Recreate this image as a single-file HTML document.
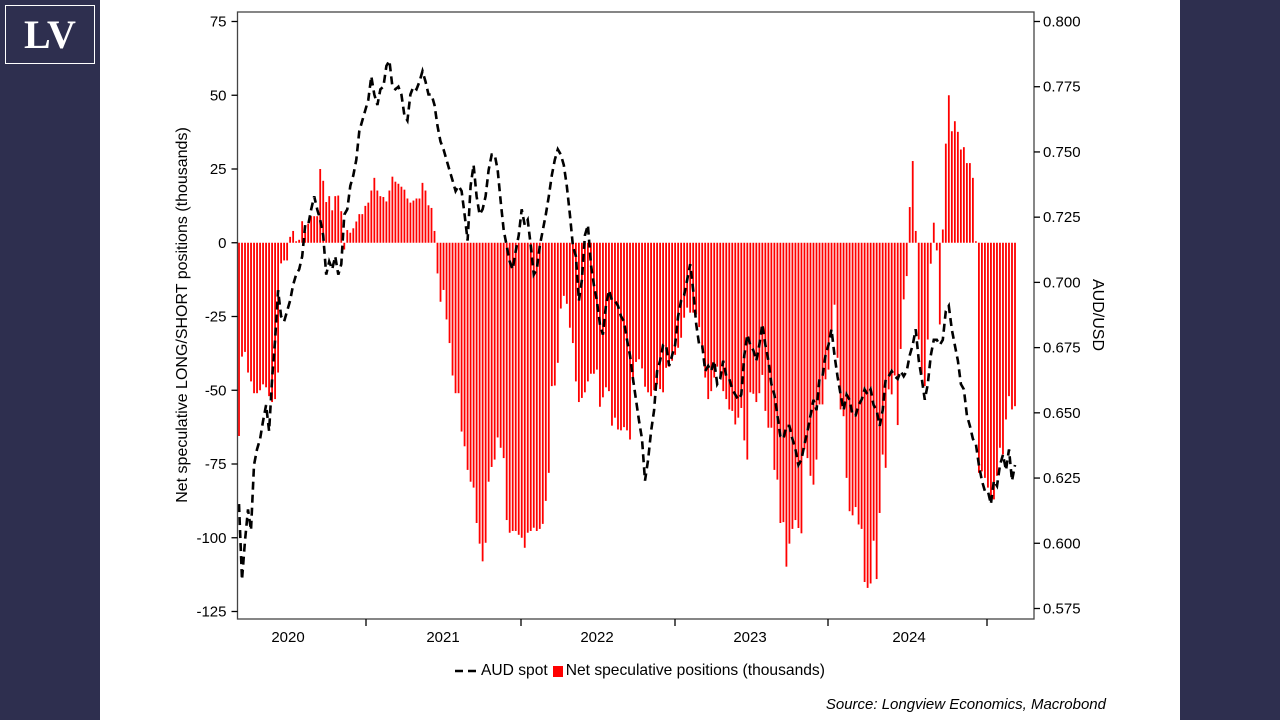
<!DOCTYPE html>
<html><head><meta charset="utf-8"><style>
html,body{margin:0;padding:0;width:1280px;height:720px;overflow:hidden;background:#fff;font-family:"Liberation Sans",Arial,sans-serif}
.side{position:absolute;top:0;width:100px;height:720px;background:#2e2f4f}
</style></head><body>
<div class="side" style="left:0"></div>
<div class="side" style="left:1180px"></div>
<div style="position:absolute;left:5px;top:5px;width:88px;height:57px;border:1px solid #fff;color:#fff;font-family:'Liberation Serif',serif;font-weight:bold;font-size:40px;text-align:center;line-height:57px">LV</div>
<svg id="chart" width="1280" height="720" style="position:absolute;left:0;top:0"></svg>
<script>
const years=["2020","2021","2022","2023","2024"];
const leftTicks=[75,50,25,0,-25,-50,-75,-100,-125];
const rightTicks=[0.800,0.775,0.750,0.725,0.700,0.675,0.650,0.625,0.600,0.575];
const netPositions=[-65.5,-38.6,-37,-44,-47,-51,-51,-50,-48,-49,-52,-54,-53,-44,-7,-6,-6,2,4,0.5,1,7.3,3.6,6.5,9,9,9,25,21,13.8,15.8,11,15.8,16,10.7,-2.3,4.3,3.4,4.9,7.2,9.7,9.7,12.5,13.6,17.7,22,17.7,15.8,15.5,14,17.7,22.4,20.7,20,19,18,15,13.6,14.3,15,15,20.3,17.7,12.7,11.8,4,-10.4,-20,-16,-26,-34,-45,-51,-51,-64,-69,-77,-81,-83,-95,-102,-108,-101.7,-81,-76,-73.5,-66,-69.5,-73,-94,-98.3,-97.7,-97.7,-99,-100,-103.4,-98.3,-97.7,-96.6,-97.7,-97,-95.3,-87.5,-78,-48.6,-48.4,-40.7,-22.3,-18,-20.7,-28.8,-34,-47,-54,-52.6,-50.7,-47,-44.4,-44.4,-43,-55.6,-52.4,-49,-50.3,-62,-59.3,-63.3,-63.6,-62.5,-63.6,-66.7,-47.5,-40.4,-39.5,-42.6,-48.8,-50.7,-52,-50,-48,-49.6,-50.7,-42.4,-42,-40,-38,-35.6,-32.2,-25.4,-22,-23.7,-23.7,-24.3,-28.6,-36,-45.7,-53,-50.3,-45.7,-42,-46,-50.3,-53,-56.5,-57,-61.6,-59.3,-56,-67,-73.5,-50.7,-51.2,-54,-51,-44.8,-57,-62.7,-62.7,-77,-80.3,-95,-94.7,-109.8,-102,-97,-94,-96.7,-98.5,-70,-73,-79,-82,-73.5,-54.8,-54.8,-46.3,-43,-30,-21,-39,-56.5,-58.8,-79.7,-91,-92.4,-89.6,-95.5,-97,-115,-117,-115.5,-101,-114,-91.6,-71.8,-76.3,-49.7,-51.4,-45,-61.8,-36,-19.2,-11.3,12.1,27.7,4,-32.8,-44.6,-48.6,-32.8,-7.1,6.8,-2.6,-27.7,4.5,33.6,50,37.8,41.2,37.6,31.6,32.4,27,27,22,0.5,-78,-77.5,-79.7,-83,-86.4,-87,-79,-69.5,-71.8,-59.9,-52,-56.5,-55.4];
const audSpot=[0.615,0.586,0.601,0.613,0.605,0.630,0.636,0.640,0.647,0.653,0.643,0.663,0.678,0.697,0.687,0.685,0.689,0.693,0.699,0.703,0.705,0.710,0.722,0.722,0.728,0.733,0.728,0.724,0.718,0.703,0.708,0.705,0.710,0.703,0.707,0.726,0.728,0.737,0.741,0.747,0.758,0.762,0.766,0.770,0.779,0.772,0.768,0.774,0.775,0.783,0.785,0.775,0.774,0.775,0.772,0.764,0.762,0.772,0.775,0.774,0.777,0.781,0.777,0.772,0.772,0.768,0.760,0.754,0.751,0.747,0.743,0.739,0.735,0.737,0.735,0.726,0.716,0.737,0.745,0.733,0.726,0.728,0.733,0.743,0.749,0.749,0.743,0.731,0.720,0.714,0.708,0.705,0.712,0.718,0.728,0.722,0.724,0.714,0.703,0.705,0.714,0.720,0.726,0.733,0.741,0.747,0.751,0.749,0.745,0.737,0.726,0.714,0.710,0.693,0.701,0.718,0.722,0.707,0.699,0.693,0.684,0.680,0.691,0.697,0.693,0.693,0.691,0.687,0.685,0.678,0.672,0.663,0.655,0.647,0.640,0.624,0.632,0.643,0.651,0.666,0.670,0.676,0.676,0.668,0.672,0.676,0.687,0.693,0.695,0.701,0.707,0.697,0.684,0.676,0.676,0.666,0.668,0.666,0.670,0.661,0.663,0.670,0.664,0.663,0.659,0.657,0.655,0.657,0.672,0.680,0.676,0.674,0.670,0.676,0.684,0.676,0.670,0.661,0.657,0.649,0.641,0.640,0.645,0.645,0.640,0.636,0.630,0.632,0.638,0.643,0.649,0.655,0.651,0.663,0.664,0.672,0.676,0.682,0.672,0.664,0.657,0.651,0.657,0.655,0.649,0.649,0.653,0.655,0.659,0.657,0.659,0.653,0.651,0.645,0.651,0.663,0.664,0.666,0.664,0.663,0.666,0.664,0.666,0.672,0.676,0.682,0.670,0.663,0.655,0.661,0.672,0.678,0.678,0.676,0.678,0.689,0.691,0.682,0.676,0.670,0.661,0.659,0.649,0.645,0.640,0.638,0.630,0.624,0.620,0.620,0.615,0.624,0.622,0.630,0.634,0.628,0.636,0.624,0.630];

const NS="http://www.w3.org/2000/svg";
const svg=document.getElementById('chart');
function mk(tag,attrs,parent){const e=document.createElementNS(NS,tag);for(const k in attrs)e.setAttribute(k,attrs[k]);(parent||svg).appendChild(e);return e;}
const L=237.5,R=1034,T=12,B=619;
const yL=v=>21.5+(75-v)*(590/200);
const yR=v=>21.5+(0.800-v)*(587/0.225);
const nBars=netPositions.length;
const xI=i=>239+i*(776/(nBars-1));
const yearTickX=[366,521,675,828,987];
const gb=mk('g',{});


netPositions.forEach((v,i)=>{
  const y0=yL(0),y1=yL(v);
  const r=mk('rect',{x:xI(i)-0.9,y:Math.min(y0,y1),width:1.8,height:Math.max(0.5,Math.abs(y1-y0)),fill:'#ff0000'},gb);
  
  
});
let d='';audSpot.forEach((v,i)=>{d+=(i?'L':'M')+xI(i).toFixed(1)+' '+yR(v).toFixed(1);});
const ln=mk('path',{d:d,fill:'none',stroke:'#000','stroke-width':2.6,'stroke-dasharray':'8 5'});


const fr=mk('rect',{x:L,y:T,width:R-L,height:B-T,fill:'none',stroke:'#444','stroke-width':1.3});


leftTicks.forEach(v=>{
  const y=yL(v);
  mk('line',{x1:L-6,x2:L,y1:y,y2:y,stroke:'#000','stroke-width':1.3});
  const t=mk('text',{x:L-11,y:y+5,'text-anchor':'end','font-size':15,fill:'#000'});
  t.textContent=v;
  
  
});
rightTicks.forEach(v=>{
  const y=yR(v);
  mk('line',{x1:R,x2:R+6,y1:y,y2:y,stroke:'#000','stroke-width':1.3});
  const t=mk('text',{x:R+9,y:y+5,'font-size':15,fill:'#000'});
  t.textContent=v.toFixed(3);
  
  
});
yearTickX.forEach(x=>mk('line',{x1:x,x2:x,y1:B,y2:B+7,stroke:'#000','stroke-width':1.3}));
years.forEach((yr,i)=>{
  const t=mk('text',{x:yearTickX[i]-78,y:642,'text-anchor':'middle','font-size':15,fill:'#000'});
  t.textContent=yr;
  
  
});
</script>
<div style="position:absolute;left:183px;top:315px;transform:translate(-50%,-50%) rotate(-90deg);white-space:nowrap;font-size:16px">Net speculative LONG/SHORT positions (thousands)</div>
<div style="position:absolute;left:1097px;top:315px;transform:translate(-50%,-50%) rotate(90deg);white-space:nowrap;font-size:16px">AUD/USD</div>
<div style="position:absolute;left:455px;top:662px;font-size:15.6px;white-space:nowrap;display:flex;align-items:center">
  <span style="display:flex;align-items:center"><svg width="26" height="6"><line x1="0" y1="3" x2="24" y2="3" stroke="#000" stroke-width="2.6" stroke-dasharray="8 5"/></svg>AUD spot</span>
  <span style="display:flex;align-items:center;margin-left:5px"><span style="display:inline-block;width:10px;height:11px;background:#f00;margin-right:3px"></span>Net speculative positions (thousands)</span>
</div>
<div style="position:absolute;right:174px;top:696px;font-size:15px;font-style:italic">Source: Longview Economics, Macrobond</div>
</body></html>
